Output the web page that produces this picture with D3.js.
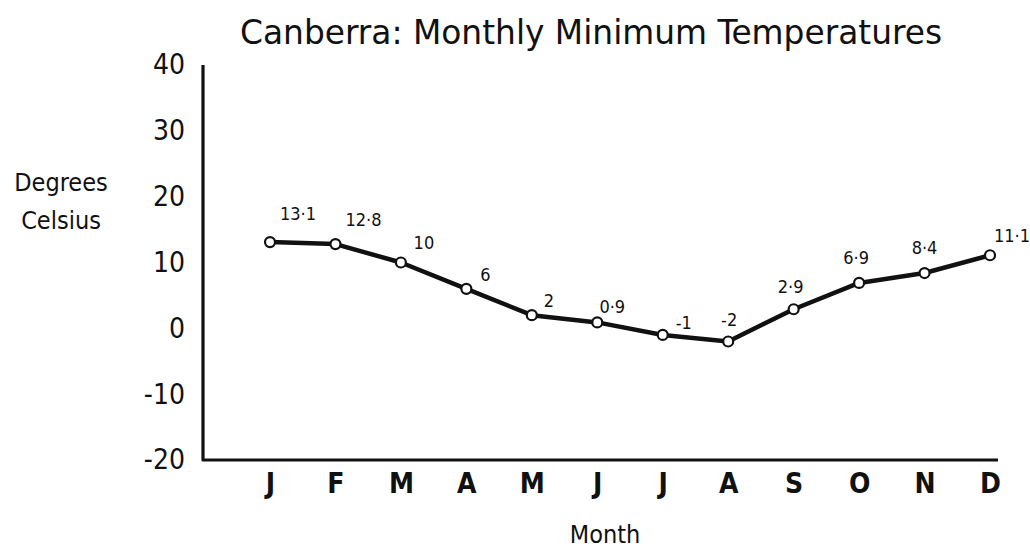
<!DOCTYPE html>
<html>
<head>
<meta charset="utf-8">
<script src="https://cdn.jsdelivr.net/npm/d3@7"></script>
<style>
  html, body { margin: 0; padding: 0; background: #fff; }
  svg { display: block; }
  text { font-family: "DejaVu Sans Condensed", "DejaVu Sans", sans-serif; fill: #111; }
</style>
</head>
<body>
<svg id="chart" width="1030" height="549"></svg>
<script>
// Canberra monthly minimum temperatures (°C)
const months = ["J", "F", "M", "A", "M", "J", "J", "A", "S", "O", "N", "D"];
const minTemps = [13.1, 12.8, 10, 6, 2, 0.9, -1, -2, 2.9, 6.9, 8.4, 11.1];
const valueLabels = ["13·1", "12·8", "10", "6", "2", "0·9", "-1", "-2", "2·9", "6·9", "8·4", "11·1"];
const yTicks = [40, 30, 20, 10, 0, -10, -20];

const svg = d3.select("#chart");
const ink = "#111";
const font = "\"DejaVu Sans Condensed\", \"DejaVu Sans\", sans-serif";

const plotLeft = 203, plotRight = 998, plotTop = 65, plotBottom = 460;

const x = d3.scalePoint()
  .domain(d3.range(months.length))
  .range([270, 990]);

const y = d3.scaleLinear()
  .domain([-20, 40])
  .range([plotBottom, plotTop]);

// Title
svg.append("text")
  .attr("x", 591).attr("y", 44)
  .attr("text-anchor", "middle")
  .attr("font-size", 33)
  .attr("textLength", 702)
  .attr("lengthAdjust", "spacingAndGlyphs")
  .text("Canberra: Monthly Minimum Temperatures");

// Y axis (labels only, no tick marks)
const yAxis = svg.append("g")
  .attr("transform", `translate(${plotLeft},0)`)
  .call(d3.axisLeft(y).tickValues(yTicks).tickSize(0).tickPadding(18).tickFormat(d => String(d)));
yAxis.select(".domain").remove();
yAxis.selectAll("text")
  .attr("font-size", 28)
  .attr("font-family", font)
  .attr("fill", ink);

// X axis (month letters)
const xAxis = svg.append("g")
  .attr("transform", `translate(0,${plotBottom})`)
  .call(d3.axisBottom(x).tickSize(0).tickPadding(13).tickFormat(i => months[i]));
xAxis.select(".domain").remove();
xAxis.selectAll("text")
  .attr("font-size", 28)
  .attr("font-weight", "bold")
  .attr("font-family", font)
  .attr("fill", ink);

// Axis lines
svg.append("path")
  .attr("d", `M${plotLeft},${y(40)} L${plotLeft},${y(-20)} L${plotRight},${y(-20)}`)
  .attr("fill", "none")
  .attr("stroke", ink)
  .attr("stroke-width", 3.2)
  .attr("stroke-linejoin", "round");

// Axis titles
const yTitle = svg.append("text")
  .attr("x", 61).attr("y", 191)
  .attr("text-anchor", "middle")
  .attr("font-size", 25);
yTitle.append("tspan").attr("x", 61).attr("dy", 0).text("Degrees");
yTitle.append("tspan").attr("x", 61).attr("dy", 38).text("Celsius");

svg.append("text")
  .attr("x", 605).attr("y", 543)
  .attr("text-anchor", "middle")
  .attr("font-size", 25)
  .text("Month");

// Temperature line
const line = d3.line()
  .x((d, i) => x(i))
  .y(d => y(d));

svg.append("path")
  .datum(minTemps)
  .attr("d", line)
  .attr("fill", "none")
  .attr("stroke", ink)
  .attr("stroke-width", 4.5)
  .attr("stroke-linejoin", "round")
  .attr("stroke-linecap", "round");

svg.selectAll("circle.pt")
  .data(minTemps)
  .join("circle")
  .attr("class", "pt")
  .attr("cx", (d, i) => x(i))
  .attr("cy", d => y(d))
  .attr("r", 5)
  .attr("fill", "#fff")
  .attr("stroke", ink)
  .attr("stroke-width", 2.2);

// Value labels, nudged off the line: [dx, dy, anchor]
const nudge = [
  [28, -22, "middle"], [28, -18, "middle"], [23, -14, "middle"], [19, -8, "middle"],
  [17, -8, "middle"], [15, -9, "middle"], [21, -6, "middle"], [1, -16, "middle"],
  [-3, -16, "middle"], [-3, -19, "middle"], [0, -19, "middle"], [4, -13, "start"]
];
svg.selectAll("text.val")
  .data(minTemps)
  .join("text")
  .attr("class", "val")
  .attr("x", (d, i) => x(i) + nudge[i][0])
  .attr("y", (d, i) => y(d) + nudge[i][1])
  .attr("text-anchor", (d, i) => nudge[i][2])
  .attr("font-size", 18)
  .text((d, i) => valueLabels[i]);
</script>
</body>
</html>
